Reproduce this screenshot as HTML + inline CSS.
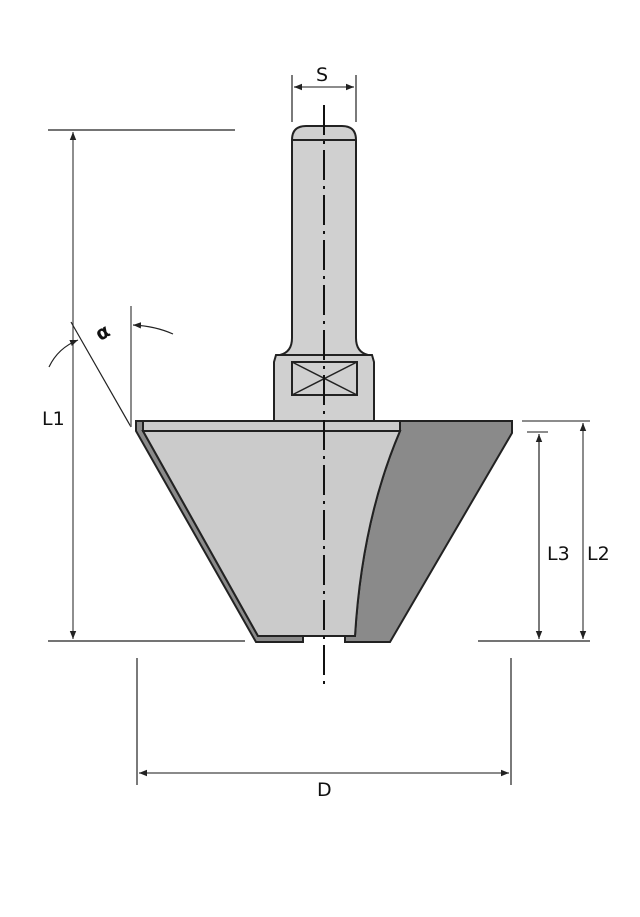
<!DOCTYPE html>
<html><head><meta charset="utf-8"><style>
html,body{margin:0;padding:0;background:#fff;}
svg{display:block;}
text{font-family:"DejaVu Sans","Liberation Sans",sans-serif;font-size:19px;fill:#111;}
</style></head><body>
<svg width="640" height="917" viewBox="0 0 640 917" xmlns="http://www.w3.org/2000/svg">
<defs>
<marker id="a" viewBox="0 0 10 10" refX="10" refY="5" markerWidth="8" markerHeight="8" orient="auto-start-reverse" markerUnits="userSpaceOnUse"><path d="M0,1 L10,5 L0,9 z" fill="#222"/></marker>
</defs>
<!-- shank -->
<path d="M292,140 Q292,126 306,126 L342,126 Q356,126 356,140 L356,338 Q356,352 368,355 L372,355 L374,362 L374,421 L274,421 L274,362 L276,355 L280,355 Q292,352 292,338 Z" fill="#d0d0d0" stroke="#222" stroke-width="2"/>
<line x1="292" y1="140" x2="356" y2="140" stroke="#222" stroke-width="2"/>
<line x1="276" y1="355" x2="372" y2="355" stroke="#222" stroke-width="2"/>
<rect x="292" y="362" width="65" height="33" fill="none" stroke="#222" stroke-width="2"/>
<path d="M292,362 L357,395 M357,362 L292,395" stroke="#222" stroke-width="1.5"/>
<!-- dark right -->
<path d="M400,421 L512,421 L512,433 L390,642 L345,642 L345,636 L355,636 Q362,520 400,431 Z" fill="#8a8a8a" stroke="#222" stroke-width="2"/>
<!-- dark left rim -->
<path d="M136,421 L143,421 L143,431 L258,636 L303,636 L303,642 L256,642 L136,431 Z" fill="#8a8a8a" stroke="#222" stroke-width="2"/>
<!-- light body -->
<path d="M143,431 L400,431 Q362,520 355,636 L345,636 L303,636 L258,636 Z" fill="#cbcbcb" stroke="#222" stroke-width="2"/>
<rect x="143" y="421" width="257" height="10" fill="#cbcbcb" stroke="#222" stroke-width="2"/>
<!-- centerline -->
<line x1="324" y1="105" x2="324" y2="688" stroke="#111" stroke-width="2" stroke-dasharray="30,6,3,6"/>
<!-- S -->
<line x1="292" y1="75" x2="292" y2="122" stroke="#222" stroke-width="1.2"/>
<line x1="356" y1="75" x2="356" y2="122" stroke="#222" stroke-width="1.2"/>
<line x1="294" y1="87" x2="354" y2="87" stroke="#666" stroke-width="1.5" marker-start="url(#a)" marker-end="url(#a)"/>
<text x="316" y="81">S</text>
<!-- L1 -->
<line x1="48" y1="130" x2="235" y2="130" stroke="#222" stroke-width="1.2"/>
<line x1="48" y1="641" x2="245" y2="641" stroke="#222" stroke-width="1.2"/>
<line x1="73" y1="132" x2="73" y2="639" stroke="#444" stroke-width="1.2" marker-start="url(#a)" marker-end="url(#a)"/>
<text x="42" y="425">L1</text>
<!-- alpha -->
<line x1="71" y1="322" x2="131" y2="427" stroke="#222" stroke-width="1.2"/>
<line x1="131" y1="306" x2="131" y2="427" stroke="#666" stroke-width="1.5"/>
<path d="M49,367 Q58,348 78,340" fill="none" stroke="#222" stroke-width="1.2" marker-end="url(#a)"/>
<path d="M173,334 Q155,326 133,325" fill="none" stroke="#222" stroke-width="1.2" marker-end="url(#a)"/>
<text x="96" y="338" transform="rotate(-30 104 332)" style="font-weight:bold">α</text>
<!-- L2 L3 -->
<line x1="522" y1="421" x2="590" y2="421" stroke="#666" stroke-width="1.5"/>
<line x1="527" y1="432" x2="548" y2="432" stroke="#666" stroke-width="1.5"/>
<line x1="478" y1="641" x2="590" y2="641" stroke="#222" stroke-width="1.2"/>
<line x1="539" y1="434" x2="539" y2="639" stroke="#222" stroke-width="1.2" marker-start="url(#a)" marker-end="url(#a)"/>
<line x1="583" y1="423" x2="583" y2="639" stroke="#666" stroke-width="1.5" marker-start="url(#a)" marker-end="url(#a)"/>
<text x="547" y="560">L3</text>
<text x="587" y="560">L2</text>
<!-- D -->
<line x1="137" y1="658" x2="137" y2="785" stroke="#222" stroke-width="1.2"/>
<line x1="511" y1="658" x2="511" y2="785" stroke="#222" stroke-width="1.2"/>
<line x1="139" y1="773" x2="509" y2="773" stroke="#444" stroke-width="1.2" marker-start="url(#a)" marker-end="url(#a)"/>
<text x="317" y="796">D</text>
</svg>
</body></html>
